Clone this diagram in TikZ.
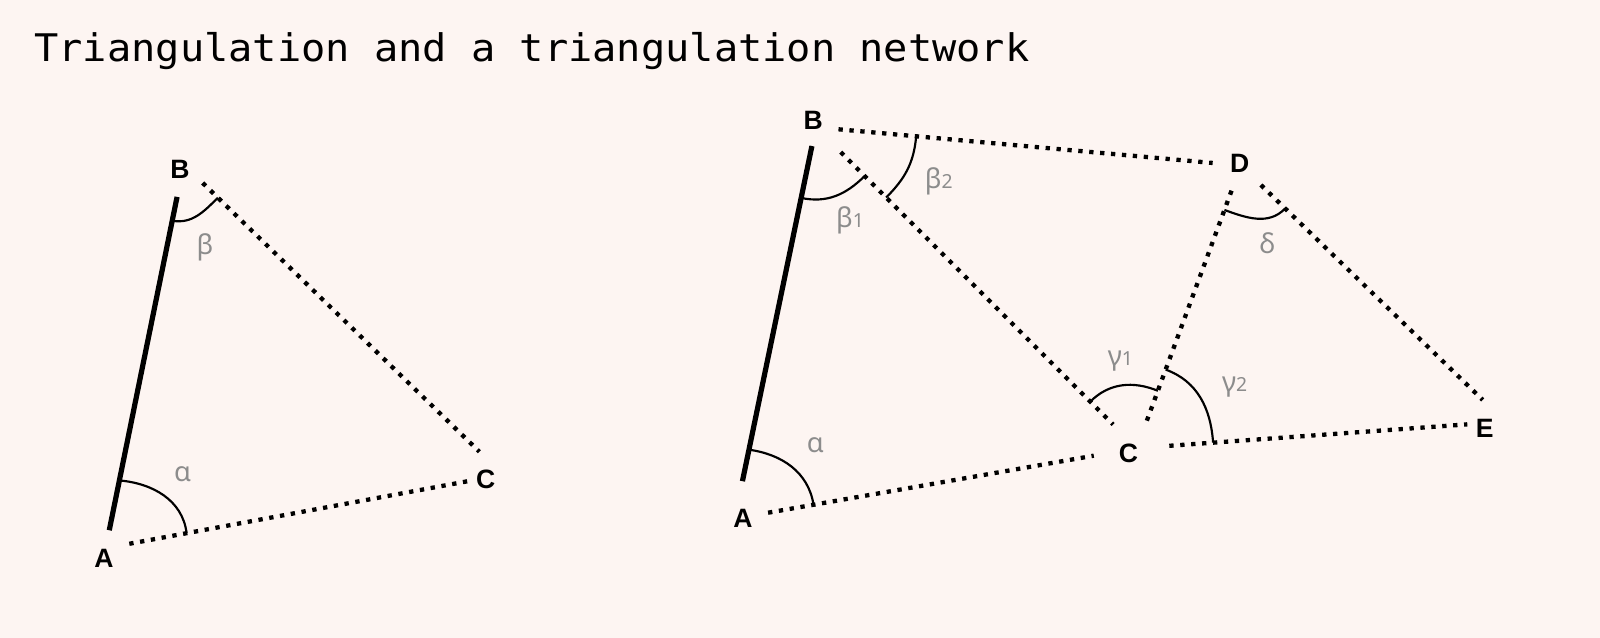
\documentclass[tikz,border=0pt]{standalone}
\usepackage{fontspec}
\usetikzlibrary{calc}

\newfontfamily\titlefont[FakeStretch=1.06]{DejaVu Sans Mono}
\newfontfamily\labelfont{Liberation Sans}
\newfontfamily\greekfont{Noto Sans}
\definecolor{paper}{HTML}{FDF5F2}
\definecolor{anglegray}{HTML}{8C8C8C}
\newcommand{\sub}[1]{{\fontsize{5.4}{6}\selectfont #1}}

\tikzset{
  dotline/.style={line width=1.2pt, dash pattern=on 1.2pt off 1.85pt},
  solidline/.style={line width=1.45pt},
  anglearc/.style={line width=0.6pt},
  ptlabel/.style={font=\labelfont\bfseries\fontsize{7.4}{8}\selectfont, inner sep=0pt},
  anglabel/.style={font=\greekfont\fontsize{7.6}{8}\selectfont, text=anglegray, inner sep=0pt}
}

\begin{document}
\begin{tikzpicture}[x=0.01cm,y=0.01cm]

  \fill[paper] (0,0) rectangle (1568,625.2);
  \useasboundingbox (0,0) rectangle (1568,625.2);

  \node[anchor=base west, inner sep=0pt, font=\titlefont\fontsize{10.6}{12}\selectfont] (title) at (33,564.5) {Triangulation and a triangulation network};

  % single triangle
  \coordinate (lA) at (103.5,88);
  \coordinate (lB) at (180,464);
  \coordinate (lC) at (493,160);

  \draw[solidline, shorten <=0.179cm, shorten >=0.324cm] (lA) -- (lB);
  \draw[dotline, shorten <=0.236cm, shorten >=0.346cm] (lA) -- (lC);
  \draw[dotline, shorten <=0.259cm, shorten >=0.323cm] (lB) -- (lC);

  \draw[anglearc] ($(lA)!0.677cm!(lB)$) to[out=-5,in=97] ($(lA)!0.807cm!(lC)$);
  \draw[anglearc] ($(lB)!0.562cm!(lA)$) to[out=-10,in=225] ($(lB)!0.467cm!(lC)$);

  \node[ptlabel] (labA) at (102,78) {A};
  \node[ptlabel] (labB) at (176.4,459) {B};
  \node[ptlabel] (labC) at (476,155) {C};
  \node[anglabel] (alpha) at (179,160) {α};
  \node[anglabel] (beta) at (201,383) {β};

  % network
  \coordinate (rA) at (720,117);
  \coordinate (rB) at (799.5,500.5);
  \coordinate (rC) at (1114,186);
  \coordinate (rD) at (1216,463);
  \coordinate (rE) at (1475,212);

  \draw[solidline, shorten <=0.374cm, shorten >=0.188cm] (rA) -- (rB);
  \draw[dotline, shorten <=0.332cm, shorten >=0.427cm] (rA) -- (rC);
  \draw[dotline, shorten <=0.223cm, shorten >=0.277cm] (rB) -- (rD);
  \draw[dotline, shorten <=0.345cm, shorten >=0.328cm] (rB) -- (rC);
  \draw[dotline, shorten <=0.287cm, shorten >=0.252cm] (rC) -- (rD);
  \draw[dotline, shorten <=0.274cm, shorten >=0.305cm] (rD) -- (rE);
  \draw[dotline, shorten <=0.32cm, shorten >=0.371cm] (rC) -- (rE);

  \draw[anglearc] ($(rA)!0.689cm!(rB)$) to[out=-8,in=99] ($(rA)!0.784cm!(rC)$);
  \draw[anglearc] ($(rB)!0.707cm!(rA)$) to[out=-12,in=225] ($(rB)!0.676cm!(rC)$);
  \draw[anglearc] ($(rB)!0.987cm!(rD)$) to[out=-95,in=45] ($(rB)!0.974cm!(rC)$);
  \draw[anglearc] ($(rC)!0.644cm!(rB)$) to[out=45,in=158] ($(rC)!0.599cm!(rD)$);
  \draw[anglearc] ($(rC)!0.82cm!(rD)$) to[out=-20,in=94] ($(rC)!0.75cm!(rE)$);
  \draw[anglearc] ($(rD)!0.464cm!(rC)$) to[out=-20,in=226] ($(rD)!0.605cm!(rE)$);

  \node[ptlabel] (netA) at (728,117) {A};
  \node[ptlabel] (netB) at (797,507.5) {B};
  \node[ptlabel] (netC) at (1106,181) {C};
  \node[ptlabel] (netD) at (1215,465) {D};
  \node[ptlabel] (netE) at (1455,205) {E};
  \node[anglabel] (netalpha) at (799,189) {α};
  \node[anglabel] (netbeta1) at (833,409.5) {β\sub{1}};
  \node[anglabel] (netbeta2) at (920,447) {β\sub{2}};
  \node[anglabel] (netgamma1) at (1098,271) {γ\sub{1}};
  \node[anglabel] (netgamma2) at (1210,246) {γ\sub{2}};
  \node[anglabel] (netdelta) at (1242,386.5) {δ};

\end{tikzpicture}
\end{document}
